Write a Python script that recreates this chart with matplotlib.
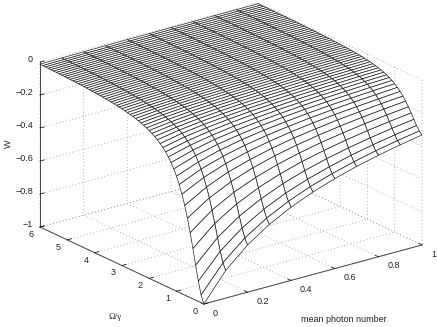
import numpy as np
import matplotlib
matplotlib.use('Agg')
import matplotlib.pyplot as plt
from mpl_toolkits.mplot3d import proj3d

plt.rcParams['font.family'] = ['Liberation Sans', 'DejaVu Sans']

# values
photon = [0, .1, .2, .3, .4, .5, .6, .7, .8, .9, 1]
omega = [i / 10 for i in range(61)]
# -W, one row per omega, one column per photon number
depth = [
    [1.000, .833, .714, .625, .556, .500, .455, .417, .385, .357, .333],
    [.952, .794, .680, .595, .529, .476, .433, .397, .366, .340, .317],
    [.877, .731, .626, .548, .487, .439, .399, .365, .337, .313, .292],
    [.787, .656, .562, .492, .437, .394, .358, .328, .303, .281, .262],
    [.694, .578, .496, .434, .386, .347, .316, .289, .267, .248, .231],
    [.606, .505, .433, .379, .337, .303, .275, .253, .233, .216, .202],
    [.526, .439, .376, .329, .292, .263, .239, .219, .202, .188, .175],
    [.457, .381, .326, .286, .254, .228, .208, .190, .176, .163, .152],
    [.397, .331, .283, .248, .220, .198, .180, .165, .153, .142, .132],
    [.346, .288, .247, .216, .192, .173, .157, .144, .133, .124, .115],
    [.303, .253, .216, .189, .168, .152, .138, .126, .117, .108, .101],
    [.267, .222, .190, .167, .148, .133, .121, .111, .103, .095, .089],
    [.236, .197, .168, .147, .131, .118, .107, .098, .091, .084, .079],
    [.210, .175, .150, .131, .117, .105, .095, .087, .081, .075, .070],
    [.187, .156, .134, .117, .104, .094, .085, .078, .072, .067, .062],
    [.168, .140, .120, .105, .093, .084, .076, .070, .065, .060, .056],
    [.152, .126, .108, .095, .084, .076, .069, .063, .058, .054, .051],
    [.137, .114, .098, .086, .076, .069, .062, .057, .053, .049, .046],
    [.125, .104, .089, .078, .069, .062, .057, .052, .048, .045, .042],
    [.114, .095, .081, .071, .063, .057, .052, .047, .044, .041, .038],
    [.104, .087, .074, .065, .058, .052, .047, .043, .040, .037, .035],
    [.096, .080, .068, .060, .053, .048, .044, .040, .037, .034, .032],
    [.088, .073, .063, .055, .049, .044, .040, .037, .034, .031, .029],
    [.081, .068, .058, .051, .045, .041, .037, .034, .031, .029, .027],
    [.076, .063, .054, .047, .042, .038, .034, .031, .029, .027, .025],
    [.070, .058, .050, .044, .039, .035, .032, .029, .027, .025, .023],
    [.065, .054, .047, .041, .036, .033, .030, .027, .025, .023, .022],
    [.061, .051, .044, .038, .034, .031, .028, .025, .023, .022, .020],
    [.057, .048, .041, .036, .032, .029, .026, .024, .022, .020, .019],
    [.054, .045, .038, .033, .030, .027, .024, .022, .021, .019, .018],
    [.050, .042, .036, .031, .028, .025, .023, .021, .019, .018, .017],
    [.047, .039, .034, .030, .026, .024, .021, .020, .018, .017, .016],
    [.045, .037, .032, .028, .025, .022, .020, .019, .017, .016, .015],
    [.042, .035, .030, .026, .023, .021, .019, .018, .016, .015, .014],
    [.040, .033, .028, .025, .022, .020, .018, .017, .015, .014, .013],
    [.038, .031, .027, .024, .021, .019, .017, .016, .014, .013, .013],
    [.036, .030, .026, .022, .020, .018, .016, .015, .014, .013, .012],
    [.034, .028, .024, .021, .019, .017, .015, .014, .013, .012, .011],
    [.032, .027, .023, .020, .018, .016, .015, .013, .012, .012, .011],
    [.031, .026, .022, .019, .017, .015, .014, .013, .012, .011, .010],
    [.029, .024, .021, .018, .016, .015, .013, .012, .011, .010, .010],
    [.028, .023, .020, .017, .015, .014, .013, .012, .011, .010, .009],
    [.027, .022, .019, .017, .015, .013, .012, .011, .010, .010, .009],
    [.025, .021, .018, .016, .014, .013, .012, .011, .010, .009, .008],
    [.024, .020, .017, .015, .014, .012, .011, .010, .009, .009, .008],
    [.023, .019, .017, .015, .013, .012, .011, .010, .009, .008, .008],
    [.022, .019, .016, .014, .012, .011, .010, .009, .009, .008, .007],
    [.021, .018, .015, .013, .012, .011, .010, .009, .008, .008, .007],
    [.021, .017, .015, .013, .011, .010, .009, .009, .008, .007, .007],
    [.020, .017, .014, .012, .011, .010, .009, .008, .008, .007, .007],
    [.019, .016, .014, .012, .011, .010, .009, .008, .007, .007, .006],
    [.018, .015, .013, .011, .010, .009, .008, .008, .007, .006, .006],
    [.018, .015, .013, .011, .010, .009, .008, .007, .007, .006, .006],
    [.017, .014, .012, .011, .009, .009, .008, .007, .007, .006, .006],
    [.016, .014, .012, .010, .009, .008, .007, .007, .006, .006, .005],
    [.016, .013, .011, .010, .009, .008, .007, .007, .006, .006, .005],
    [.015, .013, .011, .010, .008, .008, .007, .006, .006, .005, .005],
    [.015, .012, .011, .009, .008, .007, .007, .006, .006, .005, .005],
    [.014, .012, .010, .009, .008, .007, .006, .006, .005, .005, .005],
    [.014, .012, .010, .009, .008, .007, .006, .006, .005, .005, .005],
    [.013, .011, .010, .008, .007, .007, .006, .006, .005, .005, .004],
]

xticks = [0, .2, .4, .6, .8, 1]
xticklabels = ['0', '0.2', '0.4', '0.6', '0.8', '1']
yticks = [0, 1, 2, 3, 4, 5, 6]
yticklabels = ['0', '1', '2', '3', '4', '5', '6']
zticks = [-1, -.8, -.6, -.4, -.2, 0]
zticklabels = ['\u22121', '\u22120.8', '\u22120.6', '\u22120.4', '\u22120.2', '0']

W_PX, H_PX = 437, 327
TEXT = '#222222'
fig = plt.figure(figsize=(W_PX / 100, H_PX / 100), dpi=100)
ax = fig.add_subplot(projection='3d', proj_type='ortho')
# axes box bigger than the figure so nothing gets clipped at its edge
S = 500
ax.set_position([-25.75 / W_PX, -83.25 / H_PX, S / W_PX, S / H_PX])
ax.view_init(elev=20.9, azim=-127.2)
ax.set_box_aspect((274, 271, 176.6), zoom=411.5 / S)

X, Y = np.meshgrid(photon, omega)
Z = -np.array(depth)
ax.plot_surface(X, Y, Z, rstride=1, cstride=1, color='white', shade=False,
                edgecolor='#222222', linewidth=0.5, antialiased=True)

ax.set_xlim(0, 1)
ax.set_ylim(0, 6)
ax.set_zlim(-1, 0)
ax.set_xticks(xticks, [])
ax.set_yticks(yticks, [])
ax.set_zticks(zticks, [])

for axis in [ax.xaxis, ax.yaxis, ax.zaxis]:
    axis.set_pane_color((1, 1, 1, 0))
    axis.pane.set_edgecolor((1, 1, 1, 0))
    axis.line.set_linewidth(0.7)
    axis.line.set_color('#444444')
    axis._axinfo['grid'].update(color='#999999', linestyle=(0, (1, 3)), linewidth=0.6)
    axis._axinfo['tick'].update(inward_factor=0, outward_factor=0.25)
    axis._axinfo['tick']['linewidth'] = {True: 0.5, False: 0.5}


# tick labels sit just off the box edges: project the 3d spot and put a flat text there
def put_label(x, y, z, lab, ha):
    x2, y2, _ = proj3d.proj_transform(x, y, z, ax.get_proj())
    ax.text2D(x2, y2, lab, transform=ax.transData, fontsize=6.5, ha=ha, va='center', color=TEXT)


for t, lab in zip(xticks, xticklabels):
    put_label(t, -0.33, -1.03, lab, 'left')
for t, lab in zip(yticks, yticklabels):
    put_label(-0.04, t, -1.03, lab, 'center')
for t, lab in zip(zticks, zticklabels):
    put_label(-0.032, 6, t + 0.027, lab, 'right')

fig.text(344 / W_PX, 1 - 320 / H_PX, 'mean photon number', fontsize=6.5, ha='center', va='center', color=TEXT)
fig.text(115 / W_PX, 1 - 317 / H_PX, '\u03a9/\u03b3', fontsize=6.5, ha='center', va='center',
         family='Liberation Serif', color=TEXT)
fig.text(8 / W_PX, 1 - 144 / H_PX, 'W', fontsize=6.5, rotation=90, ha='center', va='center', color=TEXT)

fig.savefig('out.png', dpi=100)
